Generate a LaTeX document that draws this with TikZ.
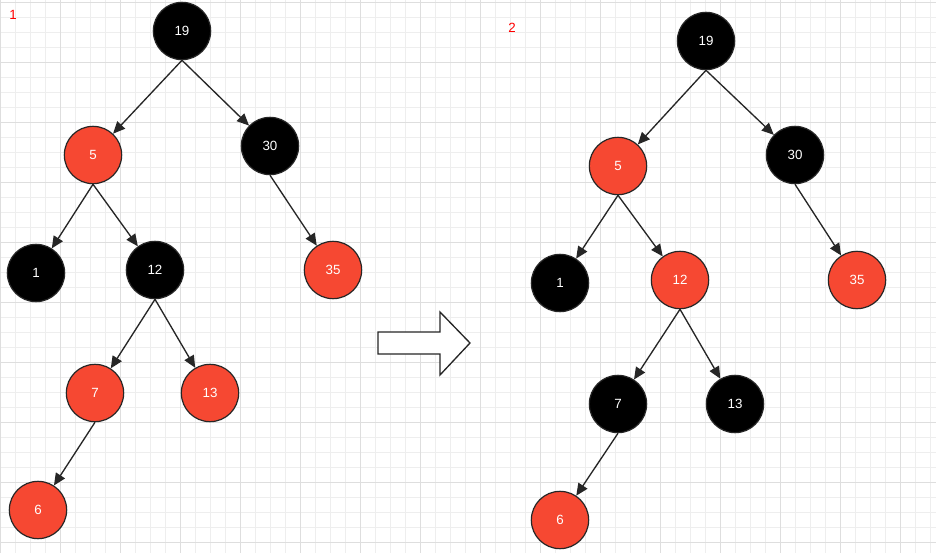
\documentclass[tikz,border=0pt]{standalone}
\usepackage{fontspec}
\setmainfont{Liberation Sans}
\usetikzlibrary{arrows.meta}
\definecolor{rbred}{RGB}{246,72,50}
\definecolor{gmin}{RGB}{238,238,238}
\definecolor{gmaj}{RGB}{222,222,222}
\tikzset{
 nd/.style={circle,draw=black!85,line width=0.9pt,minimum size=43pt,inner sep=0pt,text=white,font=\fontsize{10}{12}\selectfont},
 bk/.style={nd,fill=black},
 rd/.style={nd,fill=rbred},
 ed/.style={draw=black!85,line width=1pt,-{Triangle[length=9pt,width=8pt]}},
 lab/.style={text=red,font=\fontsize{10}{12}\selectfont}
}
\begin{document}
\begin{tikzpicture}[x=0.75pt,y=-0.75pt]
\useasboundingbox (0,0) rectangle (936,553);
\fill[white] (0,0) rectangle (936,553);
\foreach \i in {0,15,...,936} \draw[gmin,line width=0.5pt] (\i,0) -- (\i,553);
\foreach \j in {2,17,...,553} \draw[gmin,line width=0.5pt] (0,\j) -- (936,\j);
\foreach \i in {0,60,...,936} \draw[gmaj,line width=0.7pt] (\i,0) -- (\i,553);
\foreach \j in {2,62,...,553} \draw[gmaj,line width=0.7pt] (0,\j) -- (936,\j);
\node[lab] (l1) at (13,15) {1};
\node[lab] (l2) at (512,28) {2};
% left tree
\node[bk] (a19) at (182,31) {19};
\node[rd] (a5) at (93,155) {5};
\node[bk] (a30) at (270,146) {30};
\node[bk] (a1) at (36,273) {1};
\node[bk] (a12) at (155,270) {12};
\node[rd] (a35) at (333,270) {35};
\node[rd] (a7) at (95,393) {7};
\node[rd] (a13) at (210,393) {13};
\node[rd] (a6) at (38,510) {6};
\foreach \p/\c in {a19/a5,a19/a30,a5/a1,a5/a12,a30/a35,a12/a7,a12/a13,a7/a6}
  \draw[ed] (\p.south) -- (\c);
% right tree
\node[bk] (b19) at (706,41) {19};
\node[rd] (b5) at (618,166) {5};
\node[bk] (b30) at (795,155) {30};
\node[bk] (b1) at (560,283) {1};
\node[rd] (b12) at (680,280) {12};
\node[rd] (b35) at (857,280) {35};
\node[bk] (b7) at (618,404) {7};
\node[bk] (b13) at (735,404) {13};
\node[rd] (b6) at (560,520) {6};
\foreach \p/\c in {b19/b5,b19/b30,b5/b1,b5/b12,b30/b35,b12/b7,b12/b13,b7/b6}
  \draw[ed] (\p.south) -- (\c);
% hollow arrow
\draw[fill=white,draw=black!85,line width=1pt] (378,332) -- (440,332) -- (440,312) -- (470,343) -- (440,375) -- (440,354) -- (378,354) -- cycle;
\end{tikzpicture}
\end{document}
